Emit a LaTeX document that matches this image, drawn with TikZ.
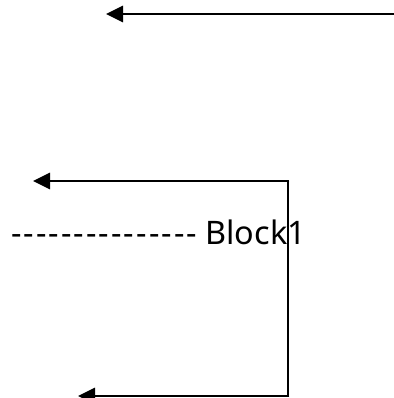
\documentclass[tikz,border=0pt]{standalone}
\usepackage{fontspec}
\newfontfamily\lblfont{Noto Sans}
\usetikzlibrary{arrows.meta}
\newcommand\dd{-\kern2.1pt}
\tikzset{
  conn/.style={line width=2.8pt, -{Triangle[length=17pt,width=16pt]}},
  plain/.style={line width=2.8pt},
  lbl/.style={font=\lblfont\fontsize{32.4}{38}\selectfont, inner sep=0pt, anchor=base west}
}
\begin{document}
\begin{tikzpicture}[x=1pt,y=-1pt]
\useasboundingbox (0,0) rectangle (393,398);
\coordinate (t1) at (395,14);
\coordinate (t2) at (106,14);
\coordinate (m) at (288,181);
\coordinate (ma) at (33,181);
\coordinate (b) at (288,396);
\coordinate (ba) at (78,396);
\draw[conn] (t1) -- (t2);
\draw[plain] (m) -- (b);
\draw[conn] ([xshift=1.4pt]m) -- (ma);
\draw[conn] ([xshift=1.4pt]b) -- (ba);
\node[lbl] (blk) at (11,244) {\dd\dd\dd\dd\dd\dd\dd\dd\dd\dd\dd\dd\dd\dd- Block1};
\end{tikzpicture}
\end{document}
